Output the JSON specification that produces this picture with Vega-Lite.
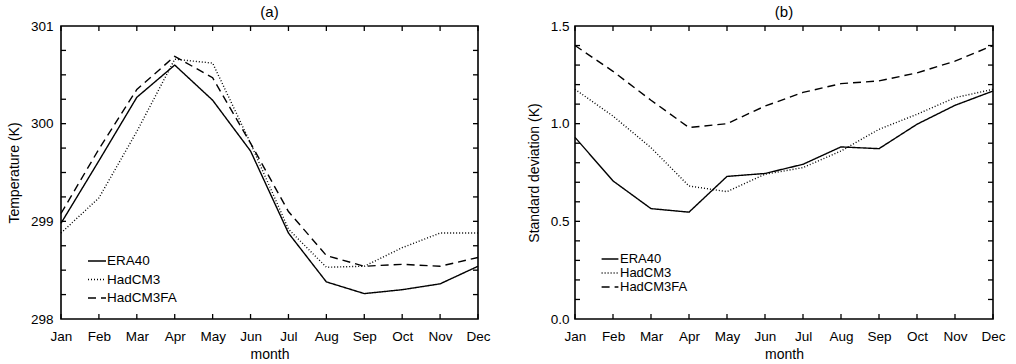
{
  "$schema": "https://vega.github.io/schema/vega-lite/v6.json",
  "padding": {"left": 6, "top": 4, "right": 5, "bottom": 2},
  "background": "white",
  "spacing": 35,
  "config": {
    "font": "Liberation Sans",
    "view": {"stroke": "black", "strokeWidth": 1.6},
    "title": {"fontSize": 15, "fontWeight": "normal", "color": "black", "offset": -1},
    "axis": {
      "domain": false,
      "ticks": false,
      "tickSize": 0,
      "grid": false,
      "labelColor": "black",
      "labelFontSize": 13.5,
      "titleFontSize": 14,
      "titleFontWeight": "normal",
      "titleColor": "black"
    },
    "legend": {
      "symbolType": "stroke",
      "symbolSize": 324,
      "symbolStrokeWidth": 1.4,
      "symbolStrokeColor": "black",
      "labelFontSize": 13.5,
      "labelColor": "black",
      "labelOffset": 0,
      "padding": 0
    }
  },
  "datasets": {
    "temp": [
      {"m": "Jan", "s": "ERA40", "v": 298.98}, {"m": "Feb", "s": "ERA40", "v": 299.62}, {"m": "Mar", "s": "ERA40", "v": 300.27},
      {"m": "Apr", "s": "ERA40", "v": 300.6}, {"m": "May", "s": "ERA40", "v": 300.24}, {"m": "Jun", "s": "ERA40", "v": 299.72},
      {"m": "Jul", "s": "ERA40", "v": 298.88}, {"m": "Aug", "s": "ERA40", "v": 298.38}, {"m": "Sep", "s": "ERA40", "v": 298.26},
      {"m": "Oct", "s": "ERA40", "v": 298.3}, {"m": "Nov", "s": "ERA40", "v": 298.36}, {"m": "Dec", "s": "ERA40", "v": 298.54},
      {"m": "Jan", "s": "HadCM3", "v": 298.88}, {"m": "Feb", "s": "HadCM3", "v": 299.24}, {"m": "Mar", "s": "HadCM3", "v": 299.92},
      {"m": "Apr", "s": "HadCM3", "v": 300.66}, {"m": "May", "s": "HadCM3", "v": 300.62}, {"m": "Jun", "s": "HadCM3", "v": 299.8},
      {"m": "Jul", "s": "HadCM3", "v": 298.92}, {"m": "Aug", "s": "HadCM3", "v": 298.53}, {"m": "Sep", "s": "HadCM3", "v": 298.54},
      {"m": "Oct", "s": "HadCM3", "v": 298.73}, {"m": "Nov", "s": "HadCM3", "v": 298.88}, {"m": "Dec", "s": "HadCM3", "v": 298.88},
      {"m": "Jan", "s": "HadCM3FA", "v": 299.08}, {"m": "Feb", "s": "HadCM3FA", "v": 299.74}, {"m": "Mar", "s": "HadCM3FA", "v": 300.35},
      {"m": "Apr", "s": "HadCM3FA", "v": 300.69}, {"m": "May", "s": "HadCM3FA", "v": 300.47}, {"m": "Jun", "s": "HadCM3FA", "v": 299.8},
      {"m": "Jul", "s": "HadCM3FA", "v": 299.1}, {"m": "Aug", "s": "HadCM3FA", "v": 298.65}, {"m": "Sep", "s": "HadCM3FA", "v": 298.54},
      {"m": "Oct", "s": "HadCM3FA", "v": 298.56}, {"m": "Nov", "s": "HadCM3FA", "v": 298.54}, {"m": "Dec", "s": "HadCM3FA", "v": 298.63}
    ],
    "sd": [
      {"m": "Jan", "s": "ERA40", "v": 0.93}, {"m": "Feb", "s": "ERA40", "v": 0.707}, {"m": "Mar", "s": "ERA40", "v": 0.565},
      {"m": "Apr", "s": "ERA40", "v": 0.547}, {"m": "May", "s": "ERA40", "v": 0.73}, {"m": "Jun", "s": "ERA40", "v": 0.745},
      {"m": "Jul", "s": "ERA40", "v": 0.792}, {"m": "Aug", "s": "ERA40", "v": 0.881}, {"m": "Sep", "s": "ERA40", "v": 0.872},
      {"m": "Oct", "s": "ERA40", "v": 0.997}, {"m": "Nov", "s": "ERA40", "v": 1.094}, {"m": "Dec", "s": "ERA40", "v": 1.167},
      {"m": "Jan", "s": "HadCM3", "v": 1.176}, {"m": "Feb", "s": "HadCM3", "v": 1.039}, {"m": "Mar", "s": "HadCM3", "v": 0.877},
      {"m": "Apr", "s": "HadCM3", "v": 0.681}, {"m": "May", "s": "HadCM3", "v": 0.652}, {"m": "Jun", "s": "HadCM3", "v": 0.741},
      {"m": "Jul", "s": "HadCM3", "v": 0.775}, {"m": "Aug", "s": "HadCM3", "v": 0.86}, {"m": "Sep", "s": "HadCM3", "v": 0.971},
      {"m": "Oct", "s": "HadCM3", "v": 1.048}, {"m": "Nov", "s": "HadCM3", "v": 1.133}, {"m": "Dec", "s": "HadCM3", "v": 1.176},
      {"m": "Jan", "s": "HadCM3FA", "v": 1.4}, {"m": "Feb", "s": "HadCM3FA", "v": 1.268}, {"m": "Mar", "s": "HadCM3FA", "v": 1.12},
      {"m": "Apr", "s": "HadCM3FA", "v": 0.98}, {"m": "May", "s": "HadCM3FA", "v": 1.0}, {"m": "Jun", "s": "HadCM3FA", "v": 1.09},
      {"m": "Jul", "s": "HadCM3FA", "v": 1.16}, {"m": "Aug", "s": "HadCM3FA", "v": 1.205}, {"m": "Sep", "s": "HadCM3FA", "v": 1.219},
      {"m": "Oct", "s": "HadCM3FA", "v": 1.26}, {"m": "Nov", "s": "HadCM3FA", "v": 1.32}, {"m": "Dec", "s": "HadCM3FA", "v": 1.4}
    ],
    "tempTicks": [
      {"t": 298.25}, {"t": 298.5}, {"t": 298.75}, {"t": 299}, {"t": 299.25}, {"t": 299.5}, {"t": 299.75},
      {"t": 300}, {"t": 300.25}, {"t": 300.5}, {"t": 300.75}
    ],
    "sdTicks": [
      {"t": 0.1}, {"t": 0.2}, {"t": 0.3}, {"t": 0.4}, {"t": 0.5}, {"t": 0.6}, {"t": 0.7},
      {"t": 0.8}, {"t": 0.9}, {"t": 1.0}, {"t": 1.1}, {"t": 1.2}, {"t": 1.3}, {"t": 1.4}
    ]
  },
  "resolve": {"scale": {"strokeDash": "independent"}, "legend": {"strokeDash": "independent"}},
  "hconcat": [
    {
      "width": 417,
      "height": 293,
      "title": {"text": "(a)"},
      "layer": [
        {
          "data": {"name": "temp"},
          "mark": {"type": "line", "color": "black", "strokeWidth": 1.4},
          "encoding": {
            "x": {"field": "m", "type": "ordinal",
                  "scale": {"type": "point", "padding": 0, "domain": ["Jan","Feb","Mar","Apr","May","Jun","Jul","Aug","Sep","Oct","Nov","Dec"]},
                  "axis": {"orient": "bottom", "title": "month", "labelAngle": 0, "labelPadding": 10, "titlePadding": 5}},
            "y": {"field": "v", "type": "quantitative", "scale": {"domain": [298, 301], "nice": false, "zero": false},
                  "axis": {"orient": "left", "title": "Temperature (K)", "values": [298, 299, 300, 301], "format": "d", "labelPadding": 8, "titlePadding": 9}},
            "strokeDash": {"field": "s", "type": "nominal",
                           "scale": {"domain": ["ERA40", "HadCM3", "HadCM3FA"], "range": [[1, 0], [1, 2], [8, 5]]},
                           "legend": {"title": null, "orient": "none", "legendX": 26, "legendY": 225, "rowPadding": 1.5}}
          }
        },
        {
          "data": {"name": "temp"},
          "transform": [{"filter": "datum.s === 'ERA40'"}],
          "mark": {"type": "tick", "color": "black", "orient": "vertical", "size": 5, "thickness": 1.3, "yOffset": -2.5, "opacity": 1},
          "encoding": {
            "x": {"field": "m", "type": "ordinal"},
            "y": {"datum": 298, "type": "quantitative"}
          }
        },
        {
          "data": {"name": "temp"},
          "transform": [{"filter": "datum.s === 'ERA40'"}],
          "mark": {"type": "tick", "color": "black", "orient": "vertical", "size": 5, "thickness": 1.3, "yOffset": 2.5, "opacity": 1},
          "encoding": {
            "x": {"field": "m", "type": "ordinal"},
            "y": {"datum": 301, "type": "quantitative"}
          }
        },
        {
          "data": {"name": "tempTicks"},
          "mark": {"type": "tick", "color": "black", "orient": "horizontal", "size": 5, "thickness": 1.3, "xOffset": 2.5, "opacity": 1},
          "encoding": {
            "y": {"field": "t", "type": "quantitative"},
            "x": {"datum": "Jan", "type": "ordinal"}
          }
        },
        {
          "data": {"name": "tempTicks"},
          "mark": {"type": "tick", "color": "black", "orient": "horizontal", "size": 5, "thickness": 1.3, "xOffset": -2.5, "opacity": 1},
          "encoding": {
            "y": {"field": "t", "type": "quantitative"},
            "x": {"datum": "Dec", "type": "ordinal"}
          }
        }
      ]
    },
    {
      "width": 418,
      "height": 293,
      "title": {"text": "(b)"},
      "layer": [
        {
          "data": {"name": "sd"},
          "mark": {"type": "line", "color": "black", "strokeWidth": 1.4},
          "encoding": {
            "x": {"field": "m", "type": "ordinal",
                  "scale": {"type": "point", "padding": 0, "domain": ["Jan","Feb","Mar","Apr","May","Jun","Jul","Aug","Sep","Oct","Nov","Dec"]},
                  "axis": {"orient": "bottom", "title": "month", "labelAngle": 0, "labelPadding": 10, "titlePadding": 5}},
            "y": {"field": "v", "type": "quantitative", "scale": {"domain": [0, 1.5], "nice": false},
                  "axis": {"orient": "left", "title": "Standard deviation (K)", "values": [0, 0.5, 1.0, 1.5], "format": ".1f", "labelPadding": 6, "titlePadding": 9}},
            "strokeDash": {"field": "s", "type": "nominal",
                           "scale": {"domain": ["ERA40", "HadCM3", "HadCM3FA"], "range": [[1, 0], [1, 2], [8, 5]]},
                           "legend": {"title": null, "orient": "none", "legendX": 28, "legendY": 226, "rowPadding": 0,
                                      "symbolType": "M-1.4,0H1.4", "symbolSize": 144, "labelFontSize": 13, "labelOffset": 3}}
          }
        },
        {
          "data": {"name": "sd"},
          "transform": [{"filter": "datum.s === 'ERA40'"}],
          "mark": {"type": "tick", "color": "black", "orient": "vertical", "size": 5, "thickness": 1.3, "yOffset": -2.5, "opacity": 1},
          "encoding": {
            "x": {"field": "m", "type": "ordinal"},
            "y": {"datum": 0, "type": "quantitative"}
          }
        },
        {
          "data": {"name": "sd"},
          "transform": [{"filter": "datum.s === 'ERA40'"}],
          "mark": {"type": "tick", "color": "black", "orient": "vertical", "size": 5, "thickness": 1.3, "yOffset": 2.5, "opacity": 1},
          "encoding": {
            "x": {"field": "m", "type": "ordinal"},
            "y": {"datum": 1.5, "type": "quantitative"}
          }
        },
        {
          "data": {"name": "sdTicks"},
          "mark": {"type": "tick", "color": "black", "orient": "horizontal", "size": 5, "thickness": 1.3, "xOffset": 2.5, "opacity": 1},
          "encoding": {
            "y": {"field": "t", "type": "quantitative"},
            "x": {"datum": "Jan", "type": "ordinal"}
          }
        },
        {
          "data": {"name": "sdTicks"},
          "mark": {"type": "tick", "color": "black", "orient": "horizontal", "size": 5, "thickness": 1.3, "xOffset": -2.5, "opacity": 1},
          "encoding": {
            "y": {"field": "t", "type": "quantitative"},
            "x": {"datum": "Dec", "type": "ordinal"}
          }
        }
      ]
    }
  ]
}
